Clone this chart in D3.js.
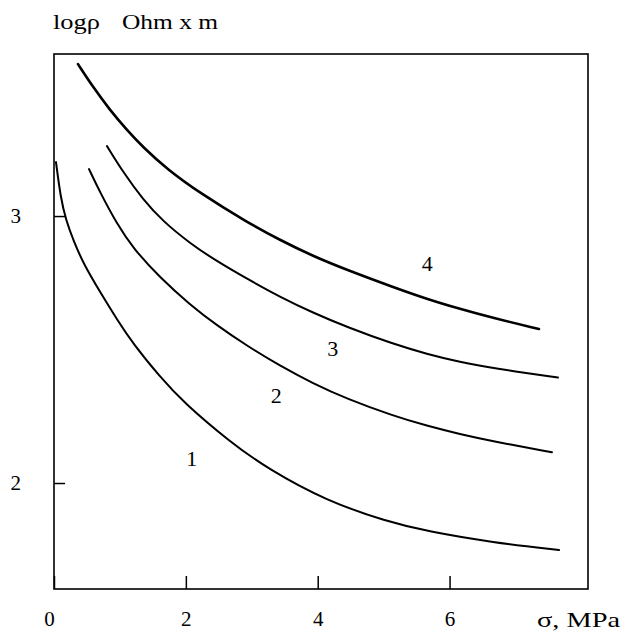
<!DOCTYPE html>
<html>
<head>
<meta charset="utf-8">
<script src="https://cdn.jsdelivr.net/npm/d3@7"></script>
<style>
  html, body { margin: 0; padding: 0; background: #fff; }
  text { font-family: "Liberation Serif", "DejaVu Serif", serif; fill: #000; }
</style>
</head>
<body>
<div id="chart"></div>
<script>
const width = 623;
const height = 633;

// sigma, MPa and log(rho), one pair of arrays per curve
const sigma1 = [0.03, 0.10, 0.18, 0.30, 0.45, 0.70, 0.97, 1.20, 1.60, 1.96, 2.67, 3.23, 4.14, 5.05, 5.66, 6.66, 7.66];
const logRho1 = [3.202, 3.070, 2.985, 2.905, 2.820, 2.715, 2.607, 2.522, 2.400, 2.303, 2.154, 2.055, 1.932, 1.856, 1.819, 1.777, 1.749];

const sigma2 = [0.531, 0.70, 0.956, 1.198, 1.608, 2.063, 2.472, 2.927, 3.428, 3.928, 4.444, 5.142, 5.658, 6.158, 6.659, 7.553];
const logRho2 = [3.176, 3.088, 2.970, 2.880, 2.769, 2.668, 2.590, 2.514, 2.439, 2.373, 2.315, 2.252, 2.214, 2.183, 2.156, 2.115];

const sigma3 = [0.804, 1.047, 1.350, 1.653, 2.063, 2.442, 2.927, 3.428, 3.928, 4.444, 5.142, 5.658, 6.158, 6.659, 7.644];
const logRho3 = [3.262, 3.165, 3.062, 2.980, 2.898, 2.835, 2.765, 2.697, 2.638, 2.584, 2.521, 2.483, 2.453, 2.430, 2.395];

const sigma4 = [0.364, 0.592, 0.849, 1.107, 1.350, 1.714, 2.214, 2.927, 3.428, 3.928, 4.444, 5.142, 5.658, 6.158, 6.659, 7.356];
const logRho4 = [3.569, 3.483, 3.397, 3.322, 3.258, 3.176, 3.086, 2.977, 2.910, 2.850, 2.798, 2.734, 2.689, 2.652, 2.618, 2.577];

const curveNames = ["1", "2", "3", "4"];
const labelSigma = [2.09, 3.37, 4.23, 5.66];
const labelLogRho = [2.094, 2.330, 2.506, 2.824];

const xTicks = [0, 2, 4, 6];
const yTicks = [2, 3];

const series = [
  { name: "1", sigma: sigma1, logRho: logRho1, w: 2 },
  { name: "2", sigma: sigma2, logRho: logRho2, w: 2 },
  { name: "3", sigma: sigma3, logRho: logRho3, w: 2 },
  { name: "4", sigma: sigma4, logRho: logRho4, w: 2.6 }
];

const x = d3.scaleLinear().domain([0, 8.1]).range([54, 588]);
const y = d3.scaleLinear().domain([1.603, 3.607]).range([589, 54]);

const svg = d3.select("#chart")
  .append("svg")
  .attr("width", width)
  .attr("height", height);

svg.append("rect")
  .attr("width", width)
  .attr("height", height)
  .attr("fill", "#fff");

// frame
svg.append("rect")
  .attr("x", x(0))
  .attr("y", y(3.607))
  .attr("width", x(8.1) - x(0))
  .attr("height", y(1.603) - y(3.607))
  .attr("fill", "none")
  .attr("stroke", "#000")
  .attr("stroke-width", 1.6);

const xAxis = svg.append("g")
  .attr("transform", `translate(0, ${y(1.603)})`)
  .call(d3.axisBottom(x).tickValues(xTicks).tickSize(-13).tickPadding(22).tickFormat(d3.format("d")));

const yAxis = svg.append("g")
  .attr("transform", `translate(${x(0)}, 0)`)
  .call(d3.axisLeft(y).tickValues(yTicks).tickSize(-11).tickPadding(33).tickFormat(d3.format("d")));

[xAxis, yAxis].forEach(g => {
  g.select(".domain").remove();
  g.selectAll(".tick line").attr("stroke", "#000").attr("stroke-width", 1.5);
  g.selectAll(".tick text")
    .style("font-family", "'Liberation Serif', serif")
    .attr("font-size", 21)
    .attr("fill", "#000");
});
xAxis.selectAll(".tick text").filter(d => d === 0).attr("dx", -5);

const line = d3.line()
  .x(d => x(d[0]))
  .y(d => y(d[1]))
  .curve(d3.curveBasis);

svg.selectAll(".curve")
  .data(series)
  .enter()
  .append("path")
  .attr("class", "curve")
  .attr("d", s => line(s.sigma.map((v, i) => [v, s.logRho[i]])))
  .attr("fill", "none")
  .attr("stroke", "#000")
  .attr("stroke-width", s => s.w)
  .attr("stroke-linecap", "round");

svg.selectAll(".curve-label")
  .data(curveNames)
  .enter()
  .append("text")
  .attr("class", "curve-label")
  .attr("x", (d, i) => x(labelSigma[i]))
  .attr("y", (d, i) => y(labelLogRho[i]))
  .attr("dy", "0.35em")
  .attr("text-anchor", "middle")
  .attr("font-size", 22)
  .text(d => d);

// axis titles
svg.append("text")
  .attr("x", 53)
  .attr("y", 29)
  .attr("font-size", 22)
  .attr("textLength", 47)
  .attr("lengthAdjust", "spacingAndGlyphs")
  .text("logρ");

svg.append("text")
  .attr("x", 122)
  .attr("y", 29)
  .attr("font-size", 22)
  .attr("textLength", 96)
  .attr("lengthAdjust", "spacingAndGlyphs")
  .text("Ohm x m");

svg.append("text")
  .attr("x", 537)
  .attr("y", 627)
  .attr("font-size", 21)
  .attr("textLength", 83)
  .attr("lengthAdjust", "spacingAndGlyphs")
  .text("σ, MPa");
</script>
</body>
</html>
